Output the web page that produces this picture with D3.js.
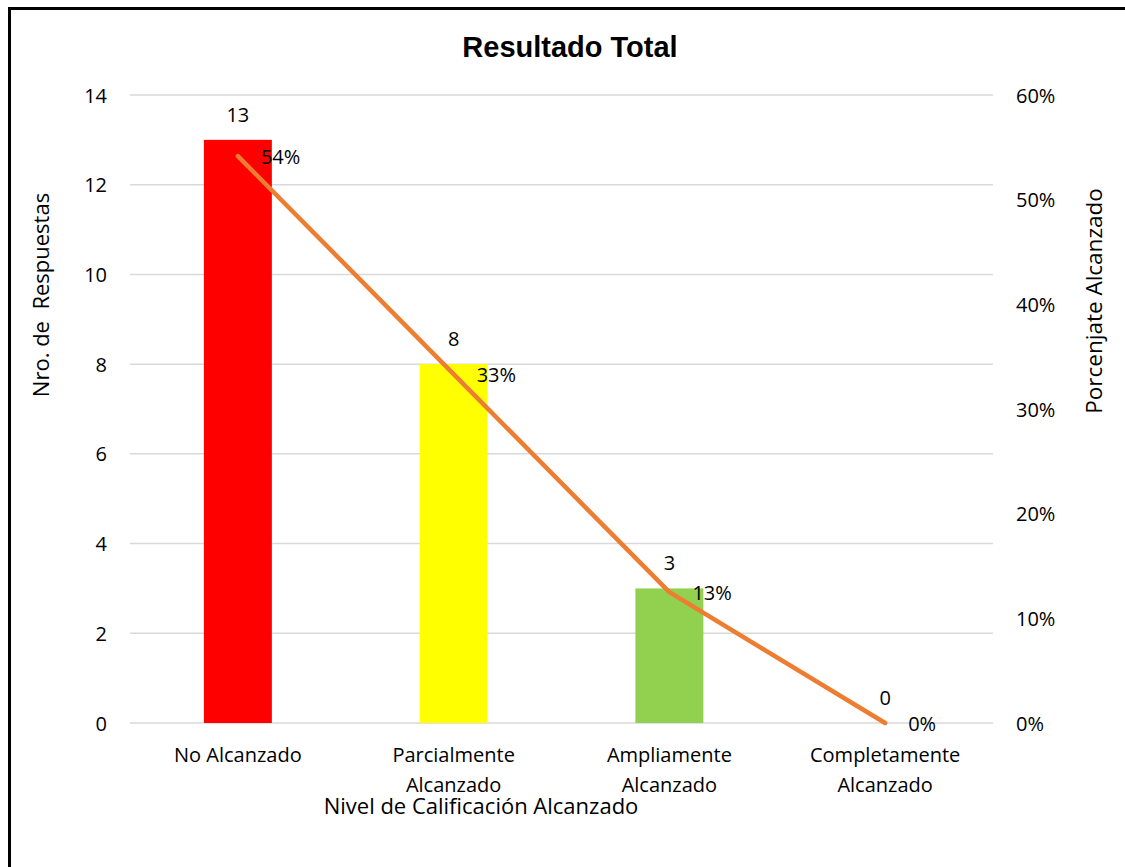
<!DOCTYPE html>
<html>
<head>
<meta charset="utf-8">
<script src="https://cdn.jsdelivr.net/npm/d3@7"></script>
<style>
  html, body { margin: 0; padding: 0; background: #fff; }
  svg { display: block; }
  text { font-family: "Open Sans", sans-serif; fill: #000; }
  text.title { font-family: "Liberation Sans", Arial, sans-serif; font-weight: bold; }
</style>
</head>
<body>
<svg id="chart" width="1125" height="867"></svg>
<script>
// Categories and values
const categories = [
  ["No Alcanzado"],
  ["Parcialmente", "Alcanzado"],
  ["Ampliamente", "Alcanzado"],
  ["Completamente", "Alcanzado"]
];
const counts = [13, 8, 3, 0];
const shares = [13 / 24, 8 / 24, 3 / 24, 0];
const shareLabels = ["54%", "33%", "13%", "0%"];
const barColors = ["#FF0000", "#FFFF00", "#92D050", "#92D050"];
const leftTicks = [0, 2, 4, 6, 8, 10, 12, 14];
const rightTicks = [0, 0.1, 0.2, 0.3, 0.4, 0.5, 0.6];

const svg = d3.select("#chart");

// Outer frame
svg.append("rect")
  .attr("x", 9.5).attr("y", 8.5)
  .attr("width", 1300).attr("height", 1000)
  .attr("fill", "none").attr("stroke", "#000").attr("stroke-width", 3);

const plot = { left: 130, right: 993, top: 95, bottom: 723 };

const x = d3.scaleBand()
  .domain(categories.map((c, i) => i))
  .range([plot.left, plot.right])
  .padding(0);
const yL = d3.scaleLinear().domain([0, 14]).range([plot.bottom, plot.top]);
const yR = d3.scaleLinear().domain([0, 0.6]).range([plot.bottom, plot.top]);
const barW = x.bandwidth() * 0.315;
const cx = i => x(i) + x.bandwidth() / 2;

// Gridlines
svg.append("g").selectAll("line").data(leftTicks).join("line")
  .attr("x1", plot.left).attr("x2", plot.right)
  .attr("y1", d => yL(d)).attr("y2", d => yL(d))
  .attr("stroke", "#D9D9D9").attr("stroke-width", 1.5);

// Left axis tick labels
const leftAxis = d3.axisLeft(yL).tickValues(leftTicks).tickSize(0).tickPadding(0);
const gL = svg.append("g").attr("transform", "translate(107,0)").call(leftAxis);
gL.select(".domain").remove();
gL.selectAll("text").attr("font-size", 20).attr("font-family", "Open Sans").attr("dy", "0.35em").attr("x", 0);

// Right axis tick labels
const rightAxis = d3.axisRight(yR).tickValues(rightTicks).tickFormat(d3.format(".0%")).tickSize(0).tickPadding(0);
const gR = svg.append("g").attr("transform", "translate(1016,0)").call(rightAxis);
gR.select(".domain").remove();
gR.selectAll("text").attr("font-size", 20).attr("font-family", "Open Sans").attr("dy", "0.35em").attr("x", 0);

// Bars
svg.append("g").selectAll("rect").data(counts).join("rect")
  .attr("x", (d, i) => cx(i) - barW / 2)
  .attr("width", barW)
  .attr("y", d => yL(d))
  .attr("height", d => yL(0) - yL(d))
  .attr("fill", (d, i) => barColors[i]);

// Percentage line
const line = d3.line().x((d, i) => cx(i)).y(d => yR(d));
svg.append("path")
  .datum(shares)
  .attr("d", line)
  .attr("fill", "none")
  .attr("stroke", "#ED7D31")
  .attr("stroke-width", 4.5)
  .attr("stroke-linecap", "round")
  .attr("stroke-linejoin", "round");

// Count labels above bars
svg.append("g").selectAll("text").data(counts).join("text")
  .attr("x", (d, i) => cx(i))
  .attr("y", d => yL(d) - 25)
  .attr("dy", "0.35em")
  .attr("text-anchor", "middle")
  .attr("font-size", 20)
  .text(d => d);

// Percentage labels right of points
svg.append("g").selectAll("text").data(shares).join("text")
  .attr("x", (d, i) => cx(i) + 23)
  .attr("y", d => yR(d) + 1)
  .attr("dy", "0.35em")
  .attr("font-size", 20)
  .text((d, i) => shareLabels[i]);

// Category labels
const catG = svg.append("g").selectAll("text").data(categories).join("text")
  .attr("text-anchor", "middle")
  .attr("font-size", 20);
catG.selectAll("tspan").data((d, i) => d.map(s => ({ s, i }))).join("tspan")
  .attr("x", d => cx(d.i))
  .attr("y", (d, j) => 755 + j * 30)
  .attr("dy", "0.35em")
  .text(d => d.s);

// Axis titles
svg.append("text")
  .attr("x", 481).attr("y", 806).attr("dy", "0.35em")
  .attr("text-anchor", "middle").attr("font-size", 22)
  .text("Nivel de Calificación Alcanzado");

svg.append("text")
  .attr("transform", "translate(41,295) rotate(-90)")
  .attr("dy", "0.35em")
  .attr("text-anchor", "middle").attr("font-size", 22)
  .style("white-space", "pre")
  .text("Nro. de  Respuestas");

svg.append("text")
  .attr("transform", "translate(1094,301) rotate(-90)")
  .attr("dy", "0.35em")
  .attr("text-anchor", "middle").attr("font-size", 22.5)
  .text("Porcenjate Alcanzado");

// Title
svg.append("text")
  .attr("class", "title")
  .attr("x", 570).attr("y", 57)
  .attr("text-anchor", "middle")
  .attr("font-size", 29)
  .text("Resultado Total");
</script>
</body>
</html>
